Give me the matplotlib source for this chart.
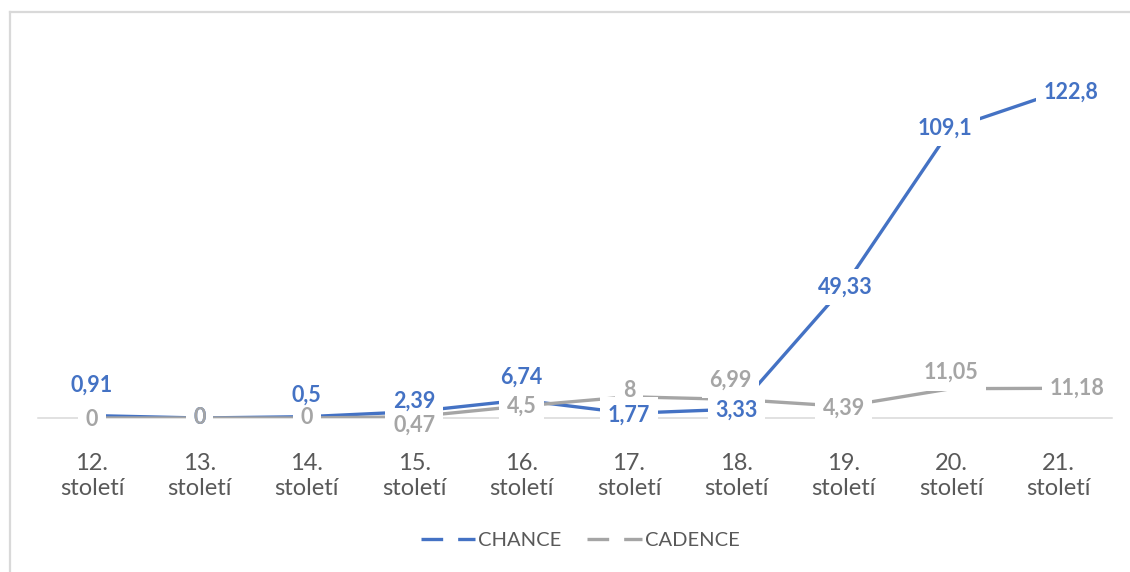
import matplotlib.pyplot as plt
from matplotlib.lines import Line2D
import numpy as np

plt.rcParams['font.family'] = ['Lato', 'DejaVu Sans']

centuries = ['12.', '13.', '14.', '15.', '16.', '17.', '18.', '19.', '20.', '21.']
chance = [0.91, 0, 0.5, 2.39, 6.74, 1.77, 3.33, 49.33, 109.1, 122.8]
cadence = [0, 0, 0, 0.47, 4.5, 8, 6.99, 4.39, 11.05, 11.18]

blue = '#4472C4'
grey = '#A5A5A5'
txt = '#595959'

# label nudges in pixels (dx, dy) so the small values don't pile up
chance_off = [(0, 30), (0, 0), (0, 21), (0, 10), (0, 23), (0, -2), (0, -1), (2, 0), (-6, 0), (12, 0)]
cadence_off = [(0, -2), (0, 0), (0, 0), (0, -8), (0, 0), (0, 6), (-6, 19), (0, -2), (0, 16), (18, 0)]

fig = plt.figure(figsize=(11.3, 5.72), dpi=100)
ax = fig.add_axes([38.3 / 1130, 154 / 572, 1074 / 1130, 140 * 2.655 / 572])

x = np.arange(len(centuries))
ax.plot(x, chance, color=blue, lw=2.4, solid_capstyle='butt', zorder=2)
ax.plot(x, cadence, color=grey, lw=2.4, solid_capstyle='butt', zorder=2)

def fmt(v):
    return f'{v:g}'.replace('.', ',')

# white boxes first (they cut the lines), then the label text on top of every box
for vals, offs, col in [(chance, chance_off, blue), (cadence, cadence_off, grey)]:
    for i, v in enumerate(vals):
        kw = dict(xytext=offs[i], textcoords='offset pixels', ha='center', va='center',
                  fontsize=15.5, fontweight='bold')
        ax.annotate(fmt(v), (i, v), color='none', zorder=3,
                    bbox=dict(boxstyle='square,pad=0.35', fc='white', ec='none'), **kw)
        ax.annotate(fmt(v), (i, v), color=col, zorder=5, **kw)

ax.set_xlim(-0.5, 9.5)
ax.set_ylim(0, 140)
ax.set_xticks(x)
ax.set_xticklabels([c + '\nstoletí' for c in centuries], fontsize=17, color=txt, linespacing=1.25)
ax.tick_params(axis='x', length=0, pad=25)
ax.set_yticks([])
for s in ['top', 'left', 'right']:
    ax.spines[s].set_visible(False)
ax.spines['bottom'].set_color('#D9D9D9')
ax.spines['bottom'].set_linewidth(1.1)
ax.spines['bottom'].set_zorder(1)

handles = [Line2D([], [], color=blue, lw=2.4, dashes=(6.5, 4.5)),
           Line2D([], [], color=grey, lw=2.4, dashes=(6.5, 4.5))]
fig.legend(handles, ['CHANCE', 'CADENCE'], loc='center', bbox_to_anchor=(580 / 1130, 1 - 540 / 572),
           ncol=2, frameon=False, fontsize=14.5, handlelength=2.7, handletextpad=0.15,
           columnspacing=1.3, labelcolor=txt)

# chart frame
fig.add_artist(Line2D([10 / 1130, 10 / 1130], [0, 1 - 11.5 / 572], color='#D9D9D9', lw=1.6))
fig.add_artist(Line2D([10 / 1130, 1], [1 - 11.5 / 572, 1 - 11.5 / 572], color='#D9D9D9', lw=1.6))

fig.savefig('out.png', dpi=100, facecolor='white')
